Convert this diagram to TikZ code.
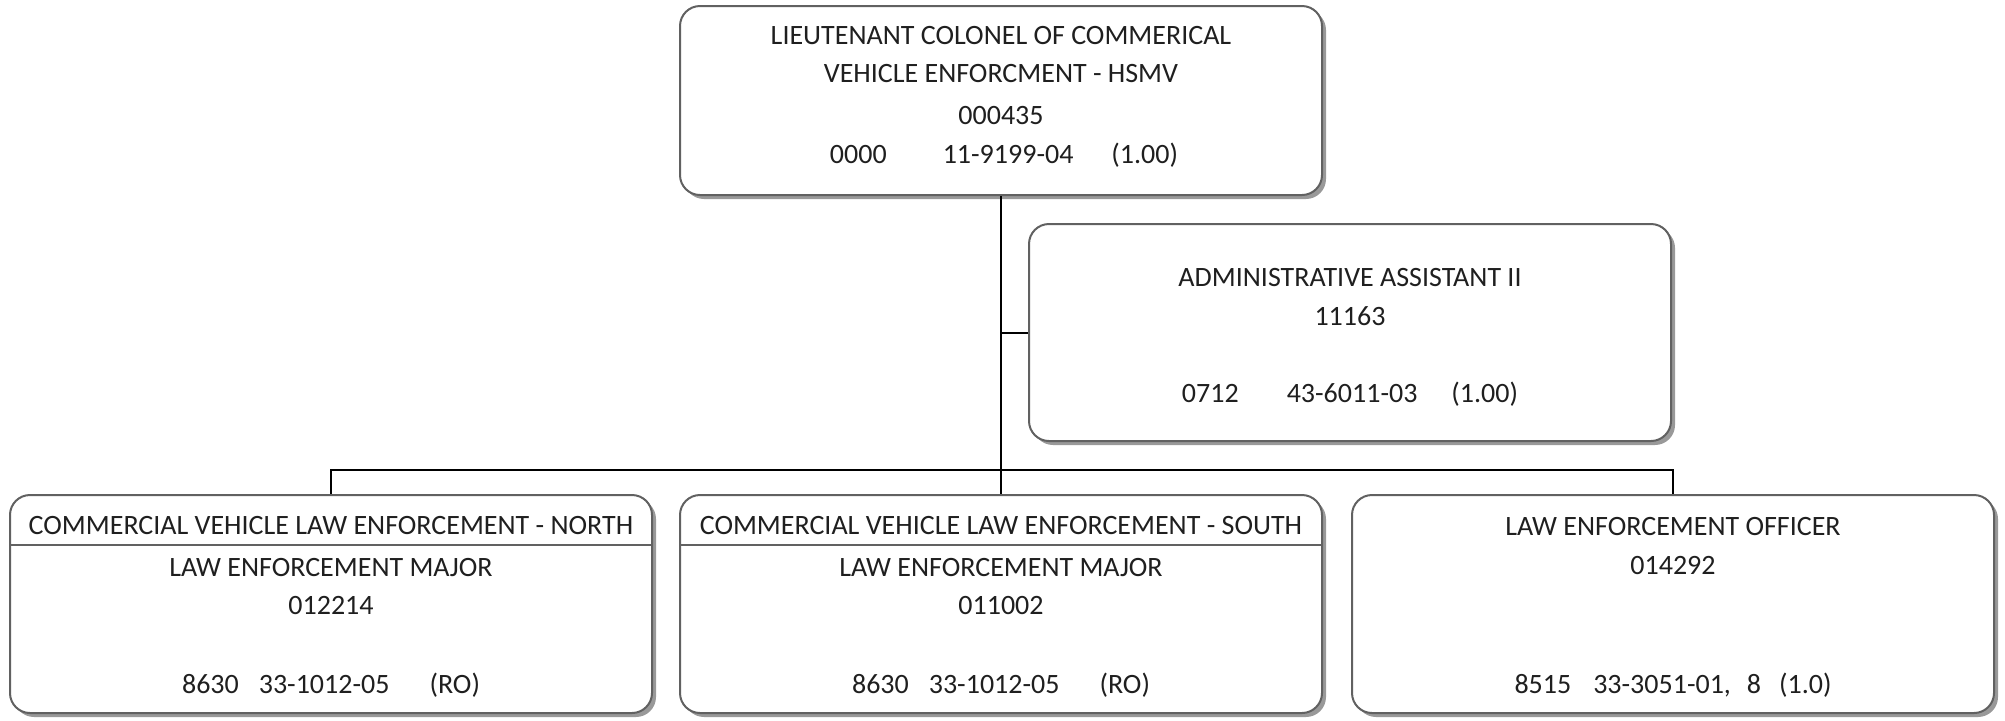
\documentclass[tikz,border=0pt]{standalone}
\usepackage{fontspec}
\setmainfont{Carlito}
\usetikzlibrary{shadows,calc}
\begin{document}
\begin{tikzpicture}[x=0.5pt,y=-0.5pt,
  box/.style={draw=black!62, line width=1pt, rounded corners=10pt, fill=white,
    minimum width=321pt, minimum height=109pt, inner sep=0pt,
    drop shadow={shadow xshift=2pt, shadow yshift=-2pt, fill=black!40, opacity=1}},
  txt/.style={font=\fontsize{14}{16}\selectfont, inner sep=0pt, anchor=base, text=black!88},
  link/.style={draw=black, line width=1pt},
  divider/.style={draw=black!62, line width=1pt}]
\useasboundingbox (0,0) rectangle (2005,720);

% boxes
\node[box, minimum height=94.5pt]  (top)     at (1001,100.5) {};
\node[box, minimum height=108.5pt] (asst)    at (1350,332.5) {};
\node[box]                         (north)   at (331,604)    {};
\node[box]                         (south)   at (1001,604)   {};
\node[box]                         (officer) at (1673,604)   {};

% connectors
\draw[link] (top.south) -- (south.north);
\draw[link] (top.south |- asst.west) -- (asst.west);
\draw[link] (north.north) -- ++(0,-24) -| (officer.north);

% top box
\node[txt] (t1) at ($(top.north)+(0,39)$)  {LIEUTENANT COLONEL OF COMMERICAL};
\node[txt] (t2) at ($(top.north)+(0,77)$)  {VEHICLE ENFORCMENT - HSMV};
\node[txt] (t3) at ($(top.north)+(0,119)$) {000435};
\node[txt] (t4) at ($(top.north)+(3,158)$) {0000\hspace{28pt}11-9199-04\hspace{19pt}(1.00)};

% assistant box
\node[txt] (a1) at ($(asst.north)+(0,63)$)  {ADMINISTRATIVE ASSISTANT II};
\node[txt] (a2) at ($(asst.north)+(0,102)$) {11163};
\node[txt] (a3) at ($(asst.north)+(0,179)$) {0712\hspace{24pt}43-6011-03\hspace{17pt}(1.00)};

% north box
\node[txt] (n0) at ($(north.north)+(0,40)$)  {COMMERCIAL VEHICLE LAW ENFORCEMENT - NORTH};
\draw[divider] ($(north.north west)+(0,51)$) -- ($(north.north east)+(0,51)$);
\node[txt] (n1) at ($(north.north)+(0,82)$)  {LAW ENFORCEMENT MAJOR};
\node[txt] (n2) at ($(north.north)+(0,120)$) {012214};
\node[txt] (n3) at ($(north.north)+(0,199)$) {8630\hspace{10pt}33-1012-05\hspace{20pt}(RO)};

% south box
\node[txt] (s0) at ($(south.north)+(0,40)$)  {COMMERCIAL VEHICLE LAW ENFORCEMENT - SOUTH};
\draw[divider] ($(south.north west)+(0,51)$) -- ($(south.north east)+(0,51)$);
\node[txt] (s1) at ($(south.north)+(0,82)$)  {LAW ENFORCEMENT MAJOR};
\node[txt] (s2) at ($(south.north)+(0,120)$) {011002};
\node[txt] (s3) at ($(south.north)+(0,199)$) {8630\hspace{10pt}33-1012-05\hspace{20pt}(RO)};

% officer box
\node[txt] (o1) at ($(officer.north)+(0,41)$)  {LAW ENFORCEMENT OFFICER};
\node[txt] (o2) at ($(officer.north)+(0,80)$)  {014292};
\node[txt] (o3) at ($(officer.north)+(0,199)$) {8515\hspace{11pt}33-3051-01,\hspace{8pt}8\hspace{9pt}(1.0)};
\end{tikzpicture}
\end{document}
